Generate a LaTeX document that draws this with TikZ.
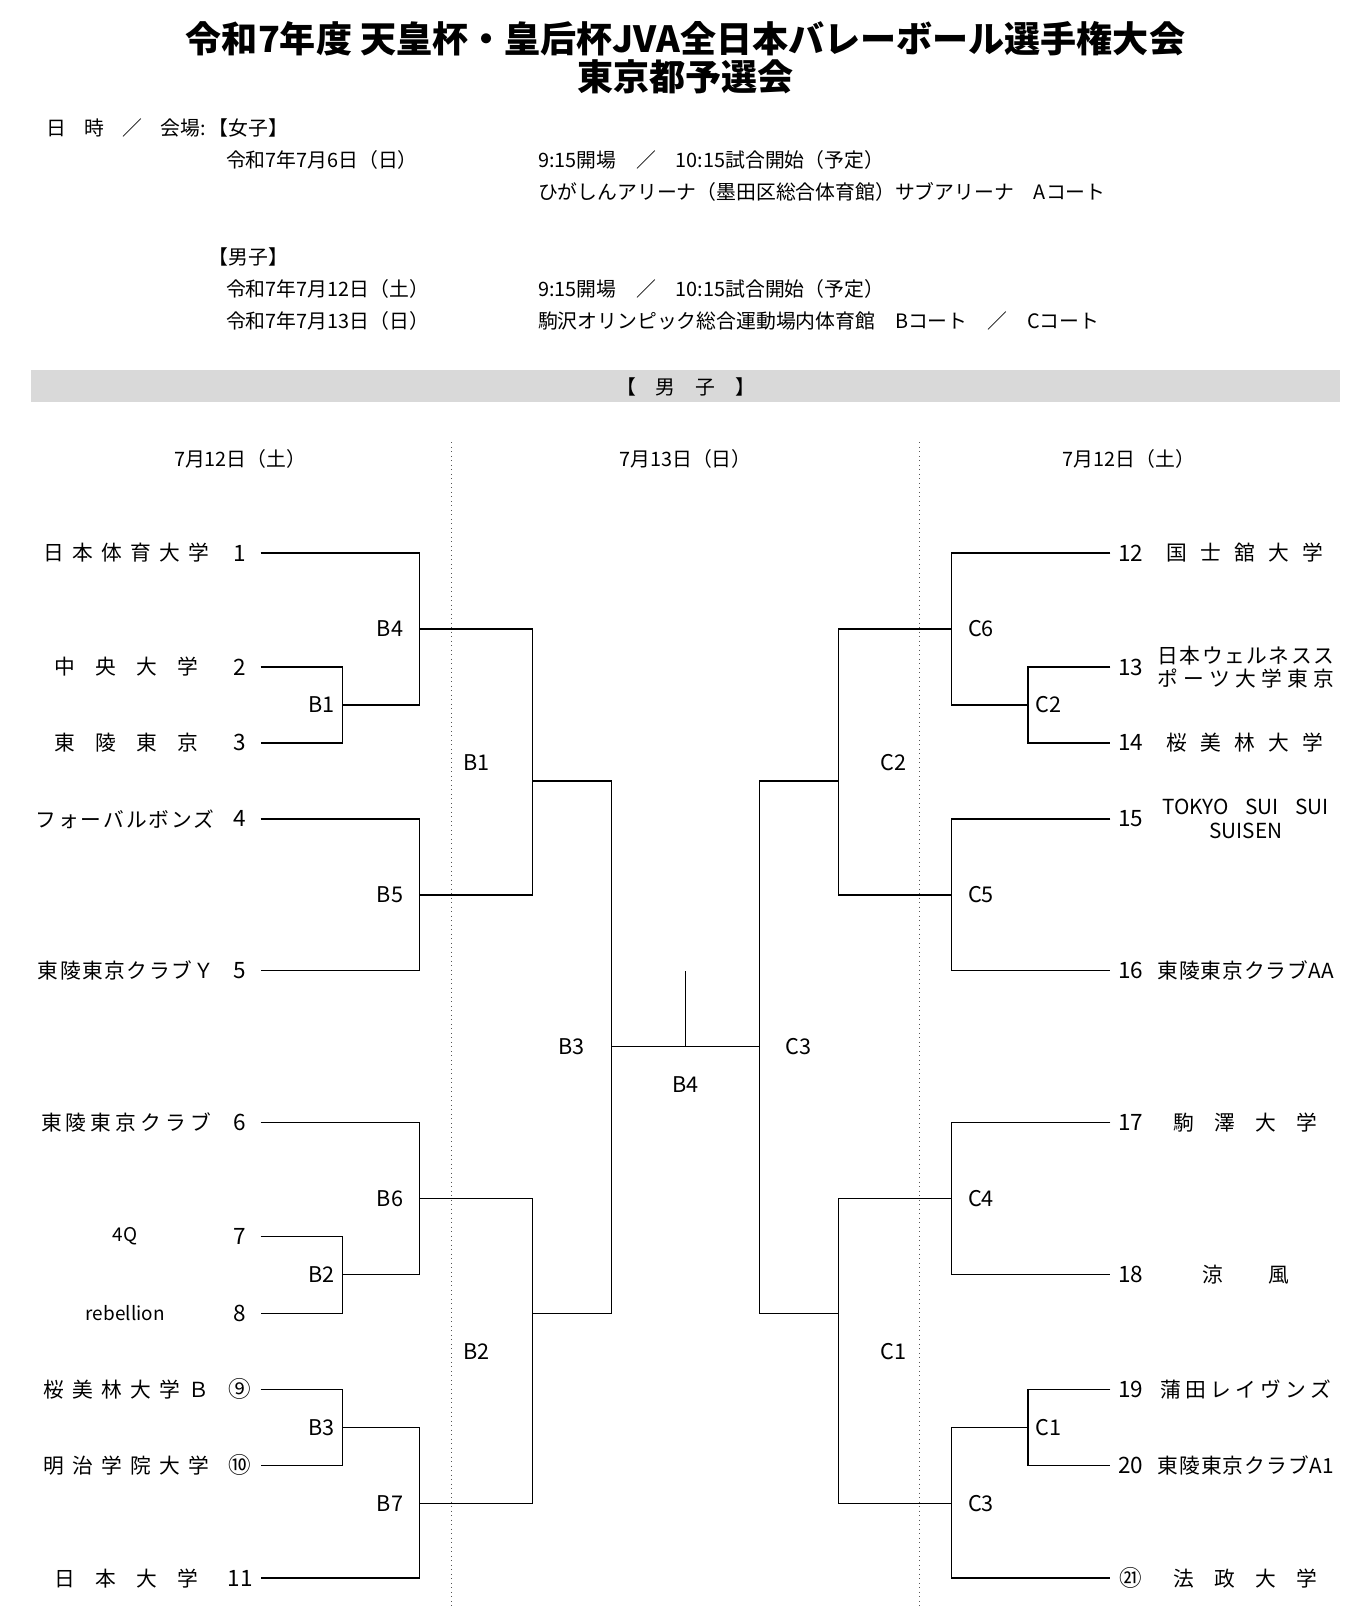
\documentclass[tikz,border=0pt]{standalone}
\usepackage{fontspec}
\setmainfont{Noto Sans CJK JP}
\usepackage{tikz}
\definecolor{BarGray}{HTML}{D9D9D9}
\definecolor{DotGray}{HTML}{555555}
\newcommand{\spread}[2]{\makebox[#2][s]{\spaceskip=0pt plus 1fil #1}}

\begin{document}
\begin{tikzpicture}[x=1cm,y=1cm,
  bline/.style={line width=0.8pt},
  dotline/.style={DotGray,dotted,line width=0.5pt},
  team/.style={inner sep=0pt,font=\fontsize{11.5}{13}\selectfont},
  small/.style={inner sep=0pt,font=\fontsize{10.5}{12}\selectfont},
  num/.style={inner sep=0pt,font=\fontsize{12.5}{14}\selectfont},
  match/.style={inner sep=0pt,font=\fontsize{12}{14}\selectfont},
  info/.style={anchor=west,inner sep=0pt,font=\fontsize{11}{13}\selectfont}]
\path[use as bounding box] (0,0) rectangle (26.66,31.36);
\node[font=\bfseries\fontsize{20}{24}\selectfont] (title1) at (13.36,30.60) {令和7年度 天皇杯・皇后杯JVA全日本バレーボール選手権大会};
\node[font=\bfseries\fontsize{20}{24}\selectfont] (title2) at (13.36,29.86) {東京都予選会};
\node[info] (when) at (0.90,28.86) {\spread{日 時 ／ 会場:}{3.10cm}};
\node[info] (women) at (4.06,28.86) {【女子】};
\node[info] (wdate) at (4.40,28.24) {令和7年7月6日（日）};
\node[info] (wtime) at (10.48,28.24) {9:15開場　／　10:15試合開始（予定）};
\node[info] (wvenue) at (10.48,27.62) {ひがしんアリーナ（墨田区総合体育館）サブアリーナ　Aコート};
\node[info] (men) at (4.06,26.36) {【男子】};
\node[info] (mdate1) at (4.40,25.72) {令和7年7月12日（土）};
\node[info] (mtime) at (10.48,25.72) {9:15開場　／　10:15試合開始（予定）};
\node[info] (mdate2) at (4.40,25.10) {令和7年7月13日（日）};
\node[info] (mvenue) at (10.48,25.10) {駒沢オリンピック総合運動場内体育館　Bコート　／　Cコート};
\fill[BarGray] (0.60,23.52) rectangle (26.12,24.14);
\node[info,anchor=center] (bar) at (13.36,23.82) {【　男　子　】};
\draw[dotline] (8.80,22.74) -- (8.80,0);
\draw[dotline] (17.92,22.74) -- (17.92,0);
\node[info,anchor=center] (day1) at (4.68,22.42) {7月12日（土）};
\node[info,anchor=center] (day2) at (13.36,22.42) {7月13日（日）};
\node[info,anchor=center] (day3) at (22.00,22.42) {7月12日（土）};
\node[team] (t1) at (2.46,20.58) {\spread{日 本 体 育 大 学}{3.24cm}};
\node[num] (n1) at (4.68,20.58) {1};
\coordinate (e1) at (5.08,20.58);
\node[team] (t2) at (2.46,18.36) {\spread{中 央 大 学}{2.80cm}};
\node[num] (n2) at (4.68,18.36) {2};
\coordinate (e2) at (5.08,18.36);
\node[team] (t3) at (2.46,16.88) {\spread{東 陵 東 京}{2.80cm}};
\node[num] (n3) at (4.68,16.88) {3};
\coordinate (e3) at (5.08,16.88);
\node[team] (t4) at (2.44,15.40) {\spread{フ ォ ー バ ル ボ ン ズ}{3.48cm}};
\node[num] (n4) at (4.68,15.40) {4};
\coordinate (e4) at (5.08,15.40);
\node[team] (t5) at (2.46,12.44) {\spread{東 陵 東 京 ク ラ ブ Ｙ}{3.44cm}};
\node[num] (n5) at (4.68,12.44) {5};
\coordinate (e5) at (5.08,12.44);
\node[team] (t6) at (2.46,9.48) {\spread{東 陵 東 京 ク ラ ブ}{3.32cm}};
\node[num] (n6) at (4.68,9.48) {6};
\coordinate (e6) at (5.08,9.48);
\node[small] (t7) at (2.44,7.26) {4Q};
\node[num] (n7) at (4.68,7.26) {7};
\coordinate (e7) at (5.08,7.26);
\node[small] (t8) at (2.44,5.76) {rebellion};
\node[num] (n8) at (4.68,5.76) {8};
\coordinate (e8) at (5.08,5.76);
\node[team] (t9) at (2.46,4.28) {\spread{桜 美 林 大 学 Ｂ}{3.24cm}};
\node[num] (n9) at (4.68,4.28) {⑨};
\coordinate (e9) at (5.08,4.28);
\node[team] (t10) at (2.46,2.80) {\spread{明 治 学 院 大 学}{3.24cm}};
\node[num] (n10) at (4.68,2.80) {⑩};
\coordinate (e10) at (5.08,2.80);
\node[team] (t11) at (2.46,0.60) {\spread{日 本 大 学}{2.80cm}};
\node[num] (n11) at (4.68,0.60) {11};
\coordinate (e11) at (5.08,0.60);
\node[num] (n12) at (22.04,20.58) {12};
\coordinate (e12) at (21.64,20.58);
\node[team] (t12) at (24.27,20.58) {\spread{国 士 舘 大 学}{3.06cm}};
\node[num] (n13) at (22.04,18.36) {13};
\coordinate (e13) at (21.64,18.36);
\node[team,align=center] (t13) at (24.28,18.36) {\spread{日 本 ウ ェ ル ネ ス ス}{3.44cm}\\\spread{ポ ー ツ 大 学 東 京}{3.44cm}};
\node[num] (n14) at (22.04,16.88) {14};
\coordinate (e14) at (21.64,16.88);
\node[team] (t14) at (24.27,16.88) {\spread{桜 美 林 大 学}{3.06cm}};
\node[num] (n15) at (22.04,15.40) {15};
\coordinate (e15) at (21.64,15.40);
\node[team,align=center] (t15) at (24.28,15.40) {\spread{TOKYO SUI SUI}{3.24cm}\\SUISEN};
\node[num] (n16) at (22.04,12.44) {16};
\coordinate (e16) at (21.64,12.44);
\node[team] (t16) at (24.28,12.44) {\spread{東 陵 東 京 ク ラ ブ AA}{3.44cm}};
\node[num] (n17) at (22.04,9.48) {17};
\coordinate (e17) at (21.64,9.48);
\node[team] (t17) at (24.28,9.48) {\spread{駒 澤 大 学}{2.80cm}};
\node[num] (n18) at (22.04,6.52) {18};
\coordinate (e18) at (21.64,6.52);
\node[team] (t18) at (24.28,6.52) {\spread{涼 風}{1.70cm}};
\node[num] (n19) at (22.04,4.28) {19};
\coordinate (e19) at (21.64,4.28);
\node[team] (t19) at (24.28,4.28) {\spread{蒲 田 レ イ ヴ ン ズ}{3.32cm}};
\node[num] (n20) at (22.04,2.80) {20};
\coordinate (e20) at (21.64,2.80);
\node[team] (t20) at (24.28,2.80) {\spread{東 陵 東 京 ク ラ ブ A1}{3.44cm}};
\node[num] (n21) at (22.04,0.60) {㉑};
\coordinate (e21) at (21.64,0.60);
\node[team] (t21) at (24.28,0.60) {\spread{法 政 大 学}{2.80cm}};
\coordinate (b1a) at (6.68,17.62);
\coordinate (b2a) at (6.68,6.52);
\coordinate (b3a) at (6.68,3.54);
\coordinate (b4) at (8.18,19.10);
\coordinate (b5) at (8.18,13.92);
\coordinate (b6) at (8.18,8.00);
\coordinate (b7) at (8.18,2.06);
\coordinate (b1b) at (10.38,16.14);
\coordinate (b2b) at (10.38,5.76);
\coordinate (b3b) at (11.92,10.96);
\coordinate (fin) at (13.36,10.96);
\coordinate (fintop) at (13.36,12.44);
\coordinate (c3b) at (14.80,10.96);
\coordinate (c2b) at (16.34,16.14);
\coordinate (c1b) at (16.34,5.76);
\coordinate (c6) at (18.54,19.10);
\coordinate (c5) at (18.54,13.92);
\coordinate (c4) at (18.54,8.00);
\coordinate (c3a) at (18.54,2.06);
\coordinate (c2a) at (20.04,17.62);
\coordinate (c1a) at (20.04,3.54);
\draw[bline] (e2) -| (b1a) |- (e3);
\draw[bline] (e1) -| (b4) |- (b1a);
\draw[bline] (e4) -| (b5) |- (e5);
\draw[bline] (b4) -| (b1b) |- (b5);
\draw[bline] (e7) -| (b2a) |- (e8);
\draw[bline] (e6) -| (b6) |- (b2a);
\draw[bline] (e9) -| (b3a) |- (e10);
\draw[bline] (b3a) -| (b7) |- (e11);
\draw[bline] (b6) -| (b2b) |- (b7);
\draw[bline] (b1b) -| (b3b) |- (b2b);
\draw[bline] (b3b) -- (c3b);
\draw[bline] (fin) -- (fintop);
\draw[bline] (e13) -| (c2a) |- (e14);
\draw[bline] (e12) -| (c6) |- (c2a);
\draw[bline] (e15) -| (c5) |- (e16);
\draw[bline] (c6) -| (c2b) |- (c5);
\draw[bline] (e17) -| (c4) |- (e18);
\draw[bline] (e19) -| (c1a) |- (e20);
\draw[bline] (c1a) -| (c3a) |- (e21);
\draw[bline] (c4) -| (c1b) |- (c3a);
\draw[bline] (c2b) -| (c3b) |- (c1b);
\node[match] (lb1a) at (6.26,17.62) {B1};
\node[match] (lb2a) at (6.26,6.52) {B2};
\node[match] (lb3a) at (6.26,3.54) {B3};
\node[match] (lb4) at (7.60,19.10) {B4};
\node[match] (lb5) at (7.60,13.92) {B5};
\node[match] (lb6) at (7.60,8.00) {B6};
\node[match] (lb7) at (7.60,2.06) {B7};
\node[match] (lb1b) at (9.28,16.50) {B1};
\node[match] (lb2b) at (9.28,5.02) {B2};
\node[match] (lb3b) at (11.14,10.96) {B3};
\node[match] (lfin) at (13.36,10.22) {B4};
\node[match] (lc3b) at (15.56,10.96) {C3};
\node[match] (lc2b) at (17.42,16.50) {C2};
\node[match] (lc1b) at (17.42,5.02) {C1};
\node[match] (lc6) at (19.12,19.10) {C6};
\node[match] (lc5) at (19.12,13.92) {C5};
\node[match] (lc4) at (19.12,8.00) {C4};
\node[match] (lc3a) at (19.12,2.06) {C3};
\node[match] (lc2a) at (20.44,17.62) {C2};
\node[match] (lc1a) at (20.44,3.54) {C1};
\end{tikzpicture}
\end{document}
